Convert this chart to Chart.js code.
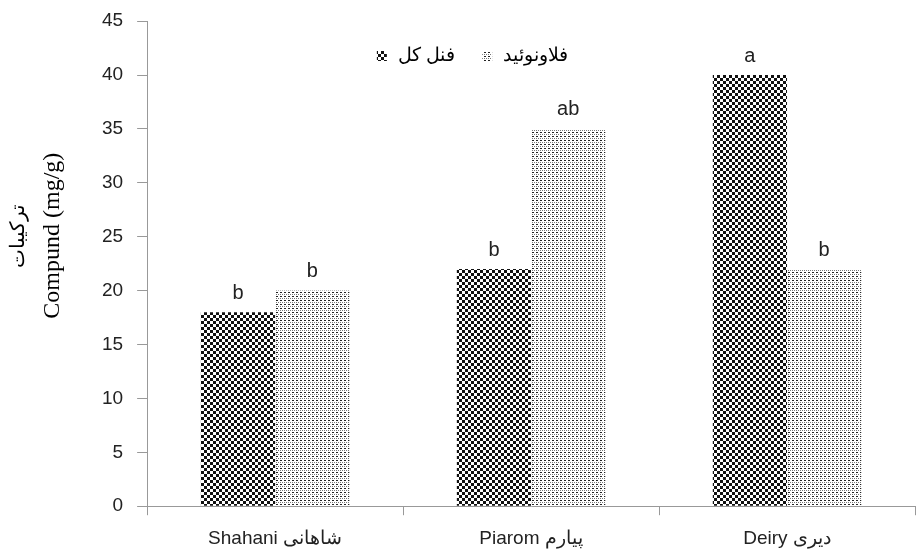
<!DOCTYPE html>
<html>
<head>
<meta charset="utf-8">
<script src="https://cdn.jsdelivr.net/npm/chart.js@4/dist/chart.umd.min.js"></script>
<style>
  html, body { margin: 0; padding: 0; background: #fff; }
  #wrap { width: 917px; height: 553px; }
</style>
</head>
<body>
<div id="wrap"><canvas id="grafico" width="917" height="553"></canvas></div>
<script>
const categorias = ['Shahani شاهانی', 'Piarom پیارم', 'Deiry دیری']
const fenolTotal = [18, 22, 40]
const flavonoide = [20, 35, 22]
const letrasFenol = ['b', 'b', 'a']
const letrasFlavo = ['b', 'ab', 'b']
const rotulosSeries = ['فنل کل', 'فلاونوئید']
const tituloEixoY = ['ترکیبات', 'Compund (mg/g)']

const fonteSans = '"Liberation Sans", Arial, sans-serif'
const fonteSerif = '"Liberation Serif", "Times New Roman", serif'

// padrão xadrez escuro
function padraoXadrez() {
    const c = document.createElement('canvas')
    c.width = 6; c.height = 6
    const g = c.getContext('2d')
    g.fillStyle = '#fff'
    g.fillRect(0, 0, 6, 6)
    g.fillStyle = '#111'
    g.fillRect(0, 0, 3, 3)
    g.fillRect(3, 3, 3, 3)
    return g.createPattern(c, 'repeat')
}

// padrão pontilhado claro
function padraoPontos() {
    const c = document.createElement('canvas')
    c.width = 4; c.height = 4
    const g = c.getContext('2d')
    g.fillStyle = '#fff'
    g.fillRect(0, 0, 4, 4)
    g.fillStyle = '#222'
    g.fillRect(0, 0, 2, 1)
    g.fillStyle = '#777'
    g.fillRect(2, 2, 1, 1)
    g.fillRect(0, 2, 1, 1)
    return g.createPattern(c, 'repeat')
}

// letras de significância acima das barras
const letrasPlugin = {
    id: 'letras',
    afterDatasetsDraw(chart) {
        const ctx = chart.ctx
        const letras = [letrasFenol, letrasFlavo]
        ctx.save()
        ctx.font = '20px ' + fonteSans
        ctx.fillStyle = '#222'
        ctx.textAlign = 'center'
        ctx.textBaseline = 'bottom'
        chart.data.datasets.forEach((ds, i) => {
            chart.getDatasetMeta(i).data.forEach((bar, j) => {
                ctx.fillText(letras[i][j], bar.x, bar.y - 9)
            })
        })
        ctx.restore()
    }
}

// legenda dentro da área do gráfico
const legendaPlugin = {
    id: 'legendaInterna',
    afterDraw(chart) {
        const ctx = chart.ctx
        ctx.save()
        ctx.font = '19px ' + fonteSans
        ctx.textBaseline = 'middle'
        ctx.textAlign = 'left'
        const caixa = 10, gapTexto = 11, gapItem = 27
        const itens = chart.data.datasets.map(ds => ({
            label: ds.label,
            fill: ds.backgroundColor,
            w: ctx.measureText(ds.label).width
        }))
        let total = 0
        itens.forEach((it, k) => {
            total += caixa + gapTexto + it.w + (k < itens.length - 1 ? gapItem : 0)
        })
        let x = chart.width / 2 + 14 - total / 2
        const y = 56
        itens.forEach(it => {
            ctx.fillStyle = it.fill
            ctx.fillRect(x, y - caixa / 2, caixa, caixa)
            x += caixa + gapTexto
            ctx.fillStyle = '#000'
            ctx.fillText(it.label, x, y)
            x += it.w + gapItem
        })
        ctx.restore()
    }
}

// título do eixo Y em duas linhas, desenhado à mão
const tituloPlugin = {
    id: 'tituloY',
    afterDraw(chart) {
        const ctx = chart.ctx
        const cy = chart.chartArea.top + (chart.chartArea.bottom - chart.chartArea.top) / 2 - 28
        ctx.save()
        ctx.fillStyle = '#000'
        ctx.textAlign = 'center'
        ctx.textBaseline = 'middle'
        ctx.translate(19, cy)
        ctx.rotate(-Math.PI / 2)
        ctx.font = '20px ' + fonteSerif
        ctx.fillText(tituloEixoY[0], 0, 0)
        ctx.font = '24px ' + fonteSerif
        ctx.fillText(tituloEixoY[1], 0, 34)
        ctx.restore()
    }
}

const ctx = document.getElementById('grafico').getContext('2d')

new Chart(ctx, {
    type: 'bar',
    data: {
        labels: categorias,
        datasets: [{
            label: rotulosSeries[0],
            data: fenolTotal,
            backgroundColor: padraoXadrez(),
            borderWidth: 0
        }, {
            label: rotulosSeries[1],
            data: flavonoide,
            backgroundColor: padraoPontos(),
            borderWidth: 0
        }]
    },
    options: {
        responsive: false,
        animation: false,
        layout: { padding: { top: 0, right: 2, left: 88, bottom: -9 } },
        datasets: {
            bar: { categoryPercentage: 0.58, barPercentage: 1 }
        },
        plugins: {
            tooltip: { enabled: false },
            legend: { display: false }
        },
        scales: {
            y: {
                min: 0,
                max: 45,
                ticks: {
                    stepSize: 5,
                    color: '#222',
                    padding: 14,
                    font: { size: 19, family: fonteSans, lineHeight: 0.75 }
                },
                grid: {
                    drawOnChartArea: false,
                    tickLength: 10,
                    color: '#999'
                },
                border: { color: '#999' }
            },
            x: {
                ticks: {
                    color: '#222',
                    padding: 12,
                    font: { size: 19, family: fonteSans }
                },
                grid: {
                    drawOnChartArea: false,
                    tickLength: 9,
                    color: '#999'
                },
                border: { color: '#999' }
            }
        }
    },
    plugins: [letrasPlugin, legendaPlugin, tituloPlugin]
})
</script>
</body>
</html>
